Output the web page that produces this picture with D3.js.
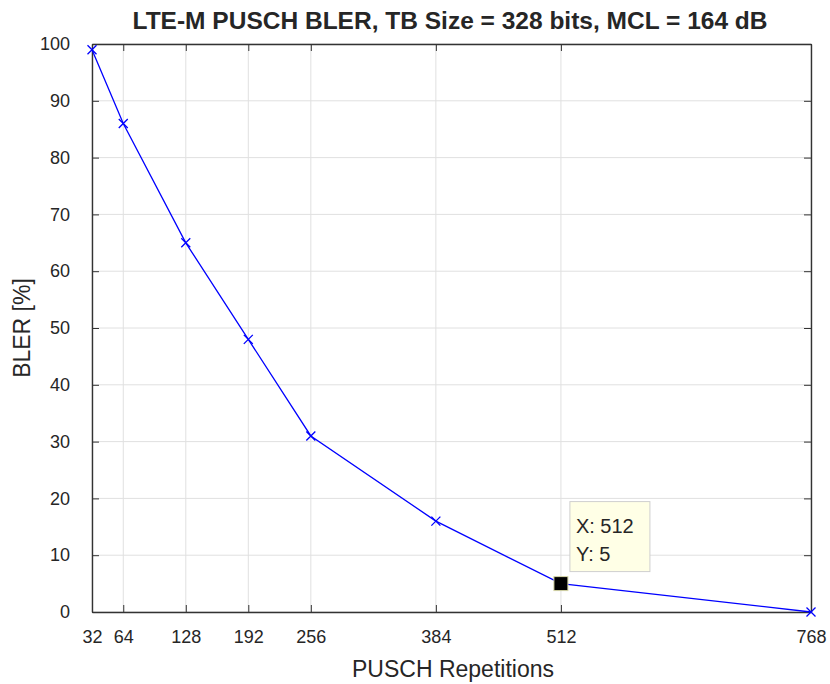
<!DOCTYPE html>
<html>
<head>
<meta charset="utf-8">
<style>
    body { margin: 0; background: #fff; }
    text { font-family: "Liberation Sans", Arial, sans-serif; fill: #262626; }
</style>
</head>
<body>
<script src="https://cdn.jsdelivr.net/npm/d3@7"></script>
<script>
    const width = 830;
    const height = 684;

    // data
    const repetitions = [32, 64, 128, 192, 256, 384, 512, 768];
    const bler = [99, 86, 65, 48, 31, 16, 5, 0];
    const xTicks = [32, 64, 128, 192, 256, 384, 512, 768];
    const yTicks = [0, 10, 20, 30, 40, 50, 60, 70, 80, 90, 100];
    const tipIndex = 6;

    const m = {left: 92, right: 19, top: 44, bottom: 72};
    const iw = width - m.left - m.right;
    const ih = height - m.top - m.bottom;

    const svg = d3.select("body").append("svg")
        .attr("width", width).attr("height", height);

    const x = d3.scaleLinear().domain([32, 768]).range([0, iw]);
    const y = d3.scaleLinear().domain([0, 100]).range([ih, 0]);

    const g = svg.append("g").attr("transform", `translate(${m.left},${m.top})`);

    // grid
    g.append("g").selectAll("line").data(xTicks).enter().append("line")
        .attr("x1", d => x(d)).attr("x2", d => x(d))
        .attr("y1", 0).attr("y2", ih)
        .attr("stroke", "#e0e0e0").attr("stroke-width", 1);
    g.append("g").selectAll("line").data(yTicks).enter().append("line")
        .attr("x1", 0).attr("x2", iw)
        .attr("y1", d => y(d)).attr("y2", d => y(d))
        .attr("stroke", "#e0e0e0").attr("stroke-width", 1);

    // axes (ticks inward, box on)
    const tk = 7;
    const xAxis = g.append("g").attr("transform", `translate(0,${ih})`)
        .call(d3.axisBottom(x).tickValues(xTicks).tickSize(-tk).tickPadding(18).tickSizeOuter(0));
    const xTop = g.append("g")
        .call(d3.axisTop(x).tickValues(xTicks).tickSize(-tk).tickFormat("").tickSizeOuter(0));
    const yAxis = g.append("g")
        .call(d3.axisLeft(y).tickValues(yTicks).tickSize(-tk).tickPadding(22).tickSizeOuter(0));
    const yRight = g.append("g").attr("transform", `translate(${iw},0)`)
        .call(d3.axisRight(y).tickValues(yTicks).tickSize(-tk).tickFormat("").tickSizeOuter(0));

    [xAxis, xTop, yAxis, yRight].forEach(a => {
        a.selectAll("path").attr("stroke", "#333").attr("stroke-width", 1.4);
        a.selectAll("line").attr("stroke", "#333");
        a.selectAll("text").style("font-size", "18px").attr("fill", "#3a3a3a")
            .style("font-family", "'Liberation Sans', Arial, sans-serif");
    });

    // line
    const line = d3.line().x((d, i) => x(repetitions[i])).y(d => y(d));
    g.append("path").datum(bler)
        .attr("d", line)
        .attr("fill", "none")
        .attr("stroke", "#0000ff")
        .attr("stroke-width", 1.3);

    // x markers
    const s = 4.5;
    g.append("g").selectAll("path").data(bler).enter().append("path")
        .attr("d", (d, i) => {
            const cx = x(repetitions[i]), cy = y(d);
            return `M${cx - s},${cy - s}L${cx + s},${cy + s}M${cx - s},${cy + s}L${cx + s},${cy - s}`;
        })
        .attr("stroke", "#0000ff").attr("stroke-width", 1.3).attr("fill", "none");

    // data tip
    const tx = x(repetitions[tipIndex]), ty = y(bler[tipIndex]);
    g.append("rect")
        .attr("x", tx - 7).attr("y", ty - 7)
        .attr("width", 14).attr("height", 14)
        .attr("fill", "#000").attr("stroke", "#d8d8a8").attr("stroke-width", 1);
    const tip = g.append("g").attr("transform", `translate(${tx + 9},${ty - 82})`);
    tip.append("rect")
        .attr("width", 80).attr("height", 70)
        .attr("fill", "#ffffe6").attr("stroke", "#cfcfcf").attr("stroke-width", 1);
    tip.append("text").attr("x", 6).attr("y", 31).style("font-size", "20px")
        .text(`X: ${repetitions[tipIndex]}`);
    tip.append("text").attr("x", 6).attr("y", 59).style("font-size", "20px")
        .text(`Y: ${bler[tipIndex]}`);

    // labels
    svg.append("text")
        .attr("x", 450).attr("y", 29)
        .attr("text-anchor", "middle")
        .attr("textLength", 635).attr("lengthAdjust", "spacingAndGlyphs")
        .style("font-size", "23.5px").style("font-weight", "bold")
        .attr("fill", "#000")
        .text("LTE-M PUSCH BLER, TB Size = 328 bits, MCL = 164 dB");
    svg.append("text")
        .attr("x", 453).attr("y", 677)
        .attr("text-anchor", "middle")
        .style("font-size", "23px")
        .text("PUSCH Repetitions");
    svg.append("text")
        .attr("transform", `translate(30,${m.top + ih / 2}) rotate(-90)`)
        .attr("text-anchor", "middle")
        .style("font-size", "23px")
        .text("BLER [%]");
</script>
</body>
</html>
